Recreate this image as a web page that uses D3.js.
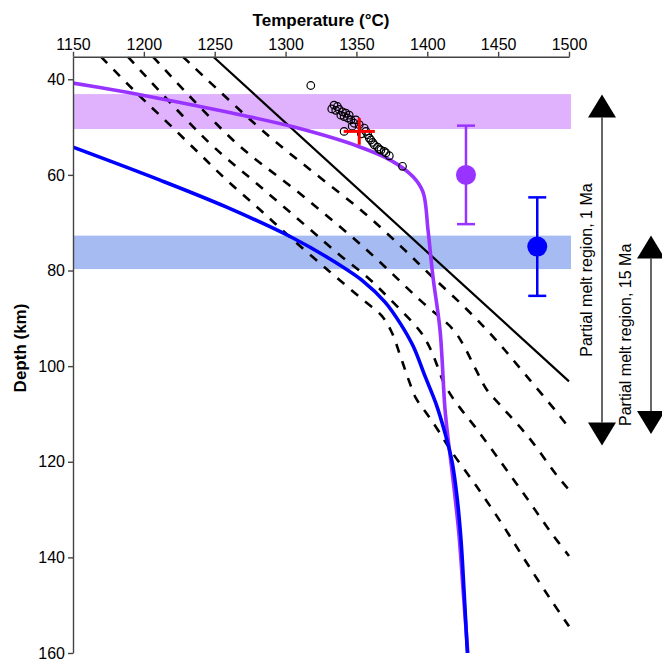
<!DOCTYPE html>
<html>
<head>
<meta charset="utf-8">
<script src="https://cdn.jsdelivr.net/npm/d3@7"></script>
<style>
  body { margin: 0; background: #fff; }
  svg { display: block; font-family: Arial, "Liberation Sans", sans-serif; }
</style>
</head>
<body>
<div id="chart"></div>
<script>
// ----------------------------------------------------------------------------
// Data (temperature in °C, depth in km)
// ----------------------------------------------------------------------------

const tempTicks = [1150, 1200, 1250, 1300, 1350, 1400, 1450, 1500];
const depthTicks = [40, 60, 80, 100, 120, 140, 160];

const bandPink = [43.1, 50.4];
const bandBlue = [72.7, 79.7];

const geotherm1Ma = [[1150, 40.8], [1180, 42.3], [1211, 44.0], [1258, 46.8], [1306, 50.0],
  [1351, 54.0], [1374, 56.9], [1390, 60.4], [1397, 63.6], [1400.5, 71.5], [1404, 81.3],
  [1409, 92.5], [1412.5, 109], [1415, 116], [1417.6, 122.3], [1422.3, 135], [1425.3, 147],
  [1428.6, 160]];

const geotherm15Ma = [[1150, 54.2], [1211.4, 61.1], [1258, 66.7], [1305.2, 73.2], [1331.4, 77.6],
  [1354.6, 82.2], [1370.2, 86.6], [1380.8, 91.0], [1390, 95.8], [1398.4, 102.1],
  [1406.2, 107.9], [1412.5, 114.0], [1417.5, 120.0], [1421, 127.4], [1423.8, 136.4],
  [1425.9, 146.8], [1428.3, 160]];

const solidusA = [[1169.8, 35.3], [1195, 42.9], [1216.1, 48.9], [1237.3, 55.0], [1258.5, 61.1],
  [1282, 67.3], [1303.1, 73.0], [1331.4, 80.3], [1354.9, 86.2], [1367.9, 89.5], [1374.9, 92.9],
  [1380.8, 97.7], [1386.4, 102.5], [1392, 106.7], [1399.8, 110.0], [1407.6, 113.4],
  [1417.2, 117.9], [1434.9, 125.2], [1452.5, 132.9], [1469, 140.6], [1486.6, 148.6],
  [1500, 154.4]];

const solidusB = [[1188.8, 35.3], [1245.5, 53.1], [1280.8, 62.1], [1314.9, 70.8], [1338.4, 76.8],
  [1357.3, 81.3], [1373.7, 86.0], [1394.9, 92.7], [1401.9, 96.2], [1406.9, 99.8],
  [1411.1, 103.1], [1416.1, 105.8], [1424.3, 109.2], [1433.7, 112.7], [1452.5, 120.3],
  [1470.2, 127.6], [1487.8, 135.0], [1500, 139.7]];

const solidusC = [[1206.5, 35.3], [1264.3, 53.1], [1311.4, 64.2], [1357.3, 75.7], [1394.9, 86.2],
  [1418.4, 92.4], [1426.6, 96.2], [1434.4, 100.8], [1442.1, 105.0], [1451.3, 108.1],
  [1471.3, 114.8], [1491.3, 122.8], [1500, 125.9]];

const solidusD = [[1227.6, 35.3], [1285.5, 51.2], [1322, 60.0], [1354.9, 67.8], [1381.9, 75.1],
  [1403.1, 81.2], [1427.8, 88.1], [1449, 94.7], [1469, 101.7], [1491.3, 109.6], [1500, 112.9]];

const solidusDry = [[1249, 35.3], [1500, 103.2]];

const obsTemp = [1317.8, 1334.2, 1336.6, 1332.6, 1335.4, 1337.8, 1340.1, 1339, 1342.5, 1341.3,
  1343.7, 1344.9, 1346.1, 1348.4, 1349.6, 1352, 1341.3, 1355.5, 1356.7, 1357.9, 1359.1,
  1360.2, 1361.4, 1362.6, 1364.9, 1366.1, 1367.3, 1369.6, 1370.8, 1373.2, 1382.5, 1347, 1353.5];
const obsDepth = [41.3, 45.4, 45.7, 46.2, 46.5, 46.3, 46.8, 47.5, 47.1, 47.8,
  48.1, 47.5, 48.5, 49.2, 48.5, 49.5, 50.9, 50.2, 50.9, 51.6, 52.3,
  52.7, 53.2, 53.7, 54.2, 54.6, 54.8, 55.1, 55.4, 56, 58.2, 49.8, 51.4];

const crossPoint = { temp: 1352, depth: 50.9, tempErr: 11, depthErr: 2.8 };

const estimates = [
  { temp: 1427.3, depth: 60.0, err: 10.3, color: '#9933ff' },
  { temp: 1477.6, depth: 75.0, err: 10.3, color: '#0000ff' },
];

const meltRegions = [
  { label: 'Partial melt region, 1 Ma', top: 43.2, bottom: 116.6, offset: 33, textOffset: 23 },
  { label: 'Partial melt region, 15 Ma', top: 72.7, bottom: 114.2, offset: 82, textOffset: 62 },
];

// ----------------------------------------------------------------------------
// Chart
// ----------------------------------------------------------------------------

const width = 662;
const height = 661;

const x = d3.scaleLinear().domain([1150, 1500]).range([73, 569]);
const y = d3.scaleLinear().domain([35.3, 160]).range([56.8, 653]);

const svg = d3.select('#chart').append('svg')
  .attr('width', width)
  .attr('height', height);

svg.append('clipPath').attr('id', 'plot')
  .append('rect')
  .attr('x', x(1150)).attr('y', y(35.3))
  .attr('width', x(1500) - x(1150) + 3).attr('height', y(160) - y(35.3));

const line = d3.line()
  .x(d => x(d[0]))
  .y(d => y(d[1]))
  .curve(d3.curveCatmullRom.alpha(0.5));

// shaded depth bands
[[bandPink, '#e0b1fd'], [bandBlue, '#a6bbf1']].forEach(([band, color]) => {
  svg.append('rect')
    .attr('x', x(1150))
    .attr('y', y(band[0]))
    .attr('width', x(1500) - x(1150) + 2)
    .attr('height', y(band[1]) - y(band[0]))
    .attr('fill', color);
});

const plot = svg.append('g').attr('clip-path', 'url(#plot)');

plot.selectAll('path.solidus')
  .data([solidusA, solidusB, solidusC, solidusD])
  .enter().append('path')
  .attr('class', 'solidus')
  .attr('d', line)
  .attr('fill', 'none')
  .attr('stroke', '#000')
  .attr('stroke-width', 2.6)
  .attr('stroke-dasharray', '9,9');

plot.append('path')
  .attr('d', line(solidusDry))
  .attr('fill', 'none')
  .attr('stroke', '#000')
  .attr('stroke-width', 2.2);

plot.append('path')
  .attr('d', line(geotherm1Ma))
  .attr('fill', 'none')
  .attr('stroke', '#9933ff')
  .attr('stroke-width', 3.6);

plot.append('path')
  .attr('d', line(geotherm15Ma))
  .attr('fill', 'none')
  .attr('stroke', '#0000ff')
  .attr('stroke-width', 3.6);

// observations
svg.append('g').selectAll('circle')
  .data(obsTemp.map((t, i) => [t, obsDepth[i]]))
  .enter().append('circle')
  .attr('cx', d => x(d[0]))
  .attr('cy', d => y(d[1]))
  .attr('r', 3.8)
  .attr('fill', 'none')
  .attr('stroke', '#000')
  .attr('stroke-width', 1.2);

const cross = svg.append('g').attr('stroke', '#ff0000').attr('stroke-width', 3);
cross.append('line')
  .attr('x1', x(crossPoint.temp - crossPoint.tempErr)).attr('x2', x(crossPoint.temp + crossPoint.tempErr))
  .attr('y1', y(crossPoint.depth)).attr('y2', y(crossPoint.depth));
cross.append('line')
  .attr('x1', x(crossPoint.temp)).attr('x2', x(crossPoint.temp))
  .attr('y1', y(crossPoint.depth - crossPoint.depthErr)).attr('y2', y(crossPoint.depth + crossPoint.depthErr));

// estimates with error bars
estimates.forEach(e => {
  const g = svg.append('g').attr('stroke', e.color).attr('stroke-width', 2.5);
  const cx = x(e.temp);
  g.append('line').attr('x1', cx).attr('x2', cx)
    .attr('y1', y(e.depth - e.err)).attr('y2', y(e.depth + e.err));
  [e.depth - e.err, e.depth + e.err].forEach(v => {
    g.append('line').attr('x1', cx - 9).attr('x2', cx + 9)
      .attr('y1', y(v)).attr('y2', y(v));
  });
  g.append('circle').attr('cx', cx).attr('cy', y(e.depth)).attr('r', 10)
    .attr('fill', e.color).attr('stroke', 'none');
});

// partial melt region arrows
const headW = 14;
const headH = 23;
meltRegions.forEach(m => {
  const ax = x(1500) + m.offset;
  const y0 = y(m.top);
  const y1 = y(m.bottom);
  const g = svg.append('g');
  g.append('line').attr('x1', ax).attr('x2', ax)
    .attr('y1', y0 + headH).attr('y2', y1 - headH)
    .attr('stroke', '#000').attr('stroke-width', 1.2);
  g.append('path')
    .attr('d', `M${ax},${y0}L${ax - headW},${y0 + headH}L${ax + headW},${y0 + headH}Z`)
    .attr('fill', '#000');
  g.append('path')
    .attr('d', `M${ax},${y1}L${ax - headW},${y1 - headH}L${ax + headW},${y1 - headH}Z`)
    .attr('fill', '#000');
  g.append('text')
    .attr('transform', `translate(${x(1500) + m.textOffset}, ${(y0 + y1) / 2}) rotate(-90)`)
    .attr('text-anchor', 'middle')
    .attr('font-size', 16)
    .text(m.label);
});

// axes
const topAxis = svg.append('g')
  .attr('transform', `translate(0, ${y(35.3)})`)
  .call(d3.axisTop(x).tickValues(tempTicks).tickFormat(d3.format('d'))
    .tickSize(5).tickSizeOuter(0).tickPadding(2));
const leftAxis = svg.append('g')
  .attr('transform', `translate(${x(1150)}, 0)`)
  .call(d3.axisLeft(y).tickValues(depthTicks).tickFormat(d3.format('d'))
    .tickSize(5).tickSizeOuter(0).tickPadding(3));

[topAxis, leftAxis].forEach(a => {
  a.selectAll('path, line').attr('stroke', '#444').attr('stroke-width', 1.4);
  a.selectAll('text').attr('font-size', 16).attr('fill', '#000')
    .attr('font-family', 'Arial, "Liberation Sans", sans-serif');
});

svg.append('text')
  .attr('x', (x(1150) + x(1500)) / 2)
  .attr('y', 26)
  .attr('text-anchor', 'middle')
  .attr('font-size', 17)
  .attr('font-weight', 'bold')
  .text('Temperature (°C)');

svg.append('text')
  .attr('transform', `translate(26, ${348}) rotate(-90)`)
  .attr('text-anchor', 'middle')
  .attr('font-size', 17)
  .attr('font-weight', 'bold')
  .text('Depth (km)');
</script>
</body>
</html>
